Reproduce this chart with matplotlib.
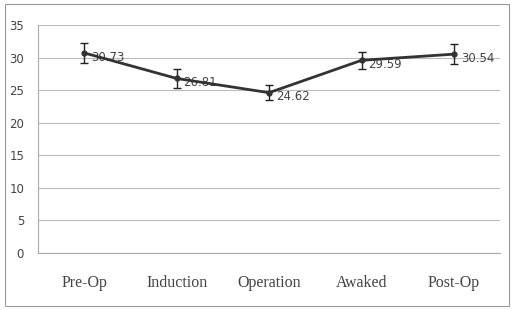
import matplotlib
matplotlib.use("Agg")
import matplotlib.pyplot as plt
from matplotlib.patches import Rectangle

stages = ["Pre-Op", "Induction", "Operation", "Awaked", "Post-Op"]
means = [30.73, 26.81, 24.62, 29.59, 30.54]
errs = [1.5, 1.4, 1.2, 1.3, 1.5]
labels = ["30.73", "26.81", "24.62", "29.59", "30.54"]

fig = plt.figure(figsize=(5.13, 3.10), dpi=100)
fig.patches.append(Rectangle((0.01, 0.012), 0.982, 0.975, transform=fig.transFigure,
                             fill=False, edgecolor='#999999', linewidth=0.8))
ax = fig.add_axes([0.074, 0.184, 0.901, 0.735])

x = list(range(len(stages)))
ax.errorbar(x, means, yerr=errs, color='#333333', linewidth=2.0, marker='o',
            markersize=3.5, ecolor='#222222', elinewidth=1.0, capsize=3, capthick=1.0, zorder=3)
for xi, m, lab in zip(x, means, labels):
    ax.annotate(lab, (xi, m), xytext=(5, -3), textcoords='offset points',
                fontsize=8.5, color='#444444', va='center', ha='left',
                family='DejaVu Sans')

ax.set_xlim(-0.5, 4.5)
ax.set_ylim(0, 35)
ax.set_yticks(range(0, 36, 5))
ax.set_xticks(x)
ax.set_xticklabels(stages, family='Liberation Serif', fontsize=11.5)
ax.set_yticklabels([str(v) for v in range(0, 36, 5)], family='DejaVu Sans', fontsize=8.5)
ax.yaxis.grid(True, color='#bbbbbb', linewidth=0.8)
ax.set_axisbelow(True)
for s in ['top', 'right']:
    ax.spines[s].set_visible(False)
ax.spines['left'].set_color('#aaaaaa')
ax.spines['bottom'].set_color('#aaaaaa')
ax.tick_params(axis='both', length=0, colors='#444444')
ax.tick_params(axis='x', pad=16)
ax.tick_params(axis='y', pad=10)

fig.savefig("out.png", dpi=100)
